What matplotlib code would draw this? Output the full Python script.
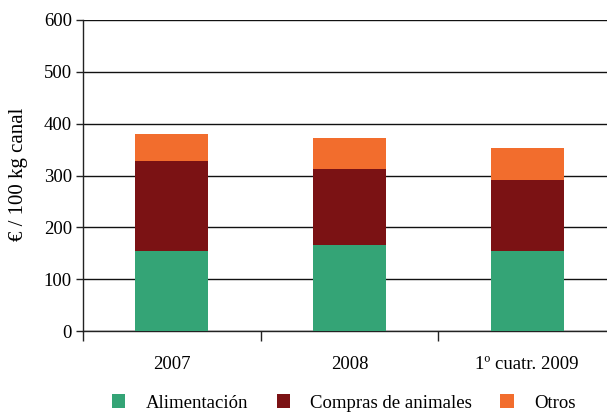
import matplotlib
matplotlib.use("Agg")
import matplotlib.pyplot as plt
from matplotlib.patches import Patch
import numpy as np

categories = ["2007", "2008", "1º cuatr. 2009"]
alimentacion = [154, 166, 154]
compras = [174, 147, 137]
otros = [52, 59, 62]
series_names = ["Alimentación", "Compras de animales", "Otros"]
colors = ["#34A476", "#7B1214", "#F26D2D"]

plt.rcParams['font.family'] = ['Liberation Serif', 'DejaVu Serif']
fs = 13.5

fig = plt.figure(figsize=(6.07, 4.12), dpi=100)
ax = fig.add_axes([83/607, 81/412, (616-83)/607, (331-20)/412])

x = np.arange(len(categories))
w = 0.41
b1 = np.array(alimentacion)
b2 = b1 + np.array(compras)
ax.bar(x, alimentacion, w, color=colors[0], zorder=3)
ax.bar(x, compras, w, bottom=b1, color=colors[1], zorder=3)
ax.bar(x, otros, w, bottom=b2, color=colors[2], zorder=3)

ax.set_ylim(0, 600)
ax.set_xlim(-0.5, 2.5)
ax.set_yticks(range(0, 601, 100))
ax.yaxis.grid(True, color='#111111', linewidth=1.0, zorder=0)
ax.set_axisbelow(True)
for s in ['top', 'right']:
    ax.spines[s].set_visible(False)
ax.spines['left'].set_color('#222222')
ax.spines['bottom'].set_color('#222222')
ax.spines['left'].set_linewidth(1.0)
ax.spines['bottom'].set_linewidth(1.0)

ax.set_xticks(x)
ax.set_xticklabels(categories, fontsize=fs)
ax.tick_params(axis='x', which='major', length=0, pad=18)
ax.set_xticks([-0.5, 0.5, 1.5, 2.5], minor=True)
ax.tick_params(axis='x', which='minor', length=7, width=1, color='#222222')
ax.tick_params(axis='y', length=5, width=1, color='#222222', labelsize=fs, pad=3)
ax.set_ylabel("€ / 100 kg canal", fontsize=15)
ax.yaxis.set_label_coords(-0.103, 0.505)

handles = [Patch(facecolor=c, edgecolor='none') for c in colors]
fig.legend(handles, series_names, loc='center', bbox_to_anchor=(344/607, 1 - 403/412),
           ncol=3, frameon=False, fontsize=fs, handlelength=0.7, handleheight=0.7,
           handletextpad=1.1, columnspacing=1.5)

fig.savefig("out.png", dpi=100)
